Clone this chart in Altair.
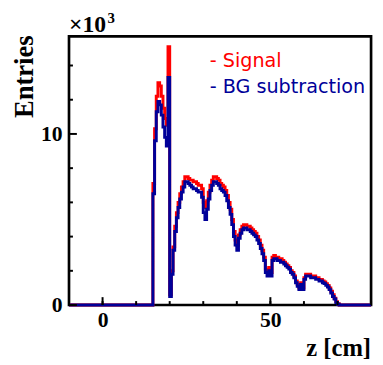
import altair as alt
import pandas as pd

# bin left edges (cm) and contents (x10^3 entries)
z_edges = [-10, 15.0, 15.5, 16.0, 16.5, 17.0, 17.5, 18.0, 18.5, 19.0, 19.5, 20.0, 20.5, 21.0, 21.5,
           22.0, 22.5, 23.0, 23.5, 24.0, 24.5, 25.0, 25.5, 26.0, 26.5, 27.0, 27.5, 28.0, 28.5,
           29.0, 29.5, 30.0, 30.5, 31.0, 31.5, 32.0, 32.5, 33.0, 33.5, 34.0, 34.5, 35.0, 35.5,
           36.0, 36.5, 37.0, 37.5, 38.0, 38.5, 39.0, 39.5, 40.0, 40.5, 41.0, 41.5, 42.0, 42.5,
           43.0, 43.5, 44.0, 44.5, 45.0, 45.5, 46.0, 46.5, 47.0, 47.5, 48.0, 48.5, 49.0, 49.5,
           50.0, 50.5, 51.0, 51.5, 52.0, 52.5, 53.0, 53.5, 54.0, 54.5, 55.0, 55.5, 56.0, 56.5,
           57.0, 57.5, 58.0, 58.5, 59.0, 59.5, 60.0, 60.5, 61.0, 61.5, 62.0, 62.5, 63.0, 63.5,
           64.0, 64.5, 65.0, 65.5, 66.0, 66.5, 67.0, 67.5, 68.0, 68.5, 69.0, 69.5, 70.0, 70.5, 80]

signal = [0, 7.1, 10.3, 12.2, 13.0, 12.8, 12.2, 11.5, 10.9, 10.5, 15.1, 0.6, 2.0, 3.4, 4.6,
          5.4, 6.0, 6.5, 6.9, 7.2, 7.5, 7.5, 7.4, 7.3, 7.3, 7.2, 7.2, 7.1, 7.0,
          7.0, 6.8, 6.0, 5.7, 6.1, 6.6, 7.0, 7.3, 7.5, 7.5, 7.4, 7.3, 7.1, 7.0,
          6.9, 6.7, 6.4, 6.0, 5.6, 5.0, 4.3, 3.8, 3.5, 4.1, 4.4, 4.6, 4.7, 4.7,
          4.6, 4.6, 4.5, 4.4, 4.3, 4.2, 4.0, 3.8, 3.5, 3.2, 2.8, 2.1, 1.9, 2.2,
          1.9, 2.8, 2.9, 2.8, 2.8, 2.7, 2.7, 2.6, 2.5, 2.4, 2.3, 2.2, 2.0, 1.9,
          1.7, 1.4, 1.2, 1.0, 1.3, 1.0, 1.6, 1.8, 1.8, 1.8, 1.7, 1.7, 1.7, 1.6,
          1.6, 1.5, 1.5, 1.4, 1.35, 1.25, 1.15, 1.0, 0.8, 0.6, 0.4, 0.2, 0.08, 0, 0]

bg_sub = [0, 6.5, 9.6, 11.3, 11.9, 11.7, 11.1, 10.4, 9.8, 9.3, 13.3, 0.5, 1.8, 3.2, 4.3,
          5.1, 5.7, 6.2, 6.6, 6.9, 7.2, 7.2, 7.1, 7.0, 6.9, 6.8, 6.8, 6.7, 6.6,
          6.6, 6.3, 5.4, 5.0, 5.6, 6.2, 6.7, 7.0, 7.2, 7.2, 7.1, 7.0, 6.8, 6.7,
          6.6, 6.4, 6.1, 5.7, 5.3, 4.7, 4.0, 3.5, 3.2, 3.9, 4.2, 4.4, 4.5, 4.5,
          4.4, 4.4, 4.3, 4.2, 4.1, 4.0, 3.8, 3.6, 3.3, 3.0, 2.6, 1.9, 1.7, 2.0,
          1.7, 2.6, 2.7, 2.7, 2.6, 2.6, 2.5, 2.5, 2.4, 2.3, 2.2, 2.1, 1.9, 1.8,
          1.6, 1.3, 1.1, 0.9, 1.2, 0.9, 1.5, 1.7, 1.7, 1.7, 1.6, 1.6, 1.6, 1.5,
          1.5, 1.4, 1.4, 1.3, 1.25, 1.15, 1.05, 0.9, 0.7, 0.5, 0.35, 0.15, 0.05, 0, 0]

x_minor_ticks = [-10, 0, 10, 20, 30, 40, 50, 60, 70, 80]
x_major_ticks = [0, 50]
y_minor_ticks = [2, 4, 6, 8, 12, 14]
y_major_ticks = [0, 10]

W, H = 307, 273
RED = "#ff0000"
BLUE = "#000099"
SERIF = "Liberation Serif"

df = pd.DataFrame({"z": z_edges, "sig": signal, "bg": bg_sub})

xs = alt.Scale(domain=[-10, 80], nice=False, zero=False)
ys = alt.Scale(domain=[0, 15.7], nice=False)

xax = alt.Axis(values=x_major_ticks, ticks=False, domain=False, grid=False, title=None,
               labelFont=SERIF, labelFontWeight="bold", labelFontSize=22, labelColor="black",
               labelPadding=5)
yax = alt.Axis(values=y_major_ticks, ticks=False, domain=False, grid=False, title=None,
               labelFont=SERIF, labelFontWeight="bold", labelFontSize=22, labelColor="black",
               labelPadding=7)

base = alt.Chart(df)
sig_line = base.mark_line(interpolate="step-after", color=RED, strokeWidth=3).encode(
    x=alt.X("z:Q", scale=xs, axis=xax), y=alt.Y("sig:Q", scale=ys, axis=yax))
bg_line = base.mark_line(interpolate="step-after", color=BLUE, strokeWidth=3).encode(
    x=alt.X("z:Q", scale=xs), y=alt.Y("bg:Q", scale=ys))

def xticks(vals, length):
    return alt.Chart(pd.DataFrame({"t": vals})).mark_rule(color="black", strokeWidth=2).encode(
        x=alt.X("t:Q", scale=xs), y=alt.value(H), y2=alt.value(H - length))

def yticks(vals, length):
    return alt.Chart(pd.DataFrame({"t": vals})).mark_rule(color="black", strokeWidth=2).encode(
        y=alt.Y("t:Q", scale=ys), x=alt.value(0), x2=alt.value(length))

def label(txt, x, y, color="black", size=21, font=SERIF, weight="bold", align="left", angle=0):
    kw = dict(text=txt, align=align, baseline="alphabetic", fontSize=size, font=font,
              fontWeight=weight, color=color)
    if angle:
        kw["angle"] = angle
    return alt.Chart(pd.DataFrame({"a": [0]})).mark_text(**kw).encode(
        x=alt.value(x), y=alt.value(y))

layers = [
    sig_line, bg_line,
    xticks(x_minor_ticks, 4), xticks(x_major_ticks, 8),
    yticks(y_minor_ticks, 4), yticks(y_major_ticks, 8),
    label("- Signal", 143, 31, color=RED, size=19.5, font="DejaVu Sans", weight="normal"),
    label("- BG subtraction", 143, 58, color=BLUE, size=19.5, font="DejaVu Sans", weight="normal"),
    label("Entries", -37, 41, size=27, align="center", angle=270),
    label("z [cm]", 307, 325, size=25, align="right"),
    label("\u00d710", 0, -4, size=24),
    label("3", 39, -14, size=15),
]

chart = alt.layer(*layers).properties(
    width=W, height=H,
    autosize=alt.AutoSizeParams(type="none"),
    padding={"left": 62, "top": 26, "right": 4, "bottom": 54},
).configure_view(stroke="black", strokeWidth=2.7)

chart.save("out.html", embed_options={"renderer": "svg", "actions": False})
